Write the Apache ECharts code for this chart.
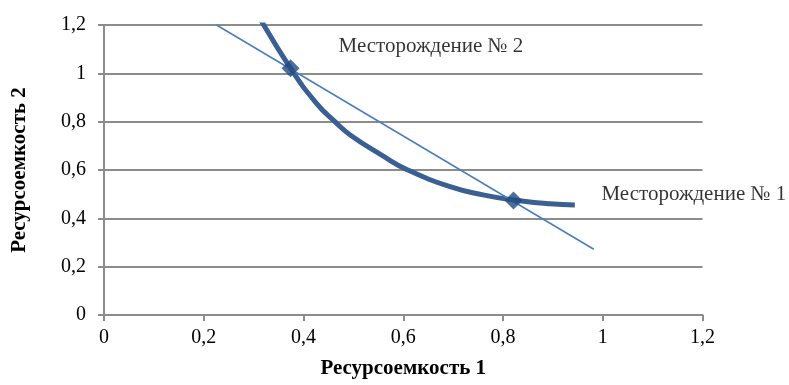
<!DOCTYPE html>
<html>
<head>
<meta charset="utf-8">
<script src="https://cdn.jsdelivr.net/npm/echarts@6/dist/echarts.min.js"></script>
<style>html,body{margin:0;padding:0;background:#fff}#c{width:789px;height:385px}</style>
</head>
<body>
<div id="c"></div>
<script>
// Curve (isoquant) points: [resource intensity 1, resource intensity 2]
const curveX = [0.303, 0.374, 0.426, 0.463, 0.493, 0.560, 0.607, 0.694, 0.760, 0.821, 0.894, 0.944];
const curveY = [1.262, 1.021, 0.876, 0.800, 0.746, 0.657, 0.602, 0.531, 0.497, 0.476, 0.460, 0.455];
// Straight line endpoints
const lineX = [0.2256, 0.982];
const lineY = [1.20, 0.272];
// Deposits
const depositNames = ['Месторождение № 2', 'Месторождение № 1'];
const depositX = [0.374, 0.821];
const depositY = [1.021, 0.474];
// Axis
const xName = 'Ресурсоемкость 1';
const yName = 'Ресурсоемкость 2';

const fmt = v => String(+v.toFixed(1)).replace('.', ',');
const font = 'Liberation Serif';
const chart = echarts.init(document.getElementById('c'), null, {renderer: 'canvas'});
chart.setOption({
  animation: false,
  grid: {left: 104, right: 86.5, top: 25, bottom: 70},
  xAxis: {
    type: 'value', min: 0, max: 1.2, interval: 0.2,
    name: xName, nameLocation: 'middle', nameGap: 43,
    nameTextStyle: {fontFamily: font, fontSize: 21, fontWeight: 'bold', color: '#000'},
    axisLine: {show: true, onZero: false, lineStyle: {color: '#8c8c8c', width: 2}},
    axisTick: {show: true, length: 6, lineStyle: {color: '#8c8c8c', width: 2}},
    axisLabel: {fontFamily: font, fontSize: 20, color: '#000', margin: 13, formatter: fmt},
    splitLine: {show: false}
  },
  yAxis: {
    type: 'value', min: 0, max: 1.2, interval: 0.2,
    name: yName, nameLocation: 'middle', nameGap: 74,
    nameTextStyle: {fontFamily: font, fontSize: 21, fontWeight: 'bold', color: '#000'},
    axisLine: {show: true, lineStyle: {color: '#8c8c8c', width: 2}},
    axisTick: {show: true, length: 6, lineStyle: {color: '#8c8c8c', width: 2}},
    axisLabel: {fontFamily: font, fontSize: 20, color: '#000', margin: 18, formatter: fmt},
    splitLine: {show: true, lineStyle: {color: '#8c8c8c', width: 2}}
  },
  series: [
    {
      type: 'line', data: lineX.map((x, i) => [x, lineY[i]]),
      showSymbol: false, lineStyle: {color: '#4a7ebb', width: 1.5}, z: 3
    },
    {
      type: 'line', data: curveX.map((x, i) => [x, curveY[i]]),
      smooth: 0.5, showSymbol: false,
      lineStyle: {color: '#3a5f93', width: 5, join: 'round', cap: 'butt'}, z: 2
    },
    {
      type: 'scatter', symbol: 'diamond', symbolSize: 18,
      itemStyle: {color: '#1f4b80'}, z: 4,
      data: depositX.map((x, i) => ({
        value: [x, depositY[i]],
        label: {
          show: true, formatter: depositNames[i], position: 'right',
          offset: i === 0 ? [34, -22] : [74, -6],
          fontFamily: font, fontSize: 21, color: '#000'
        }
      }))
    }
  ]
});
</script>
</body>
</html>
